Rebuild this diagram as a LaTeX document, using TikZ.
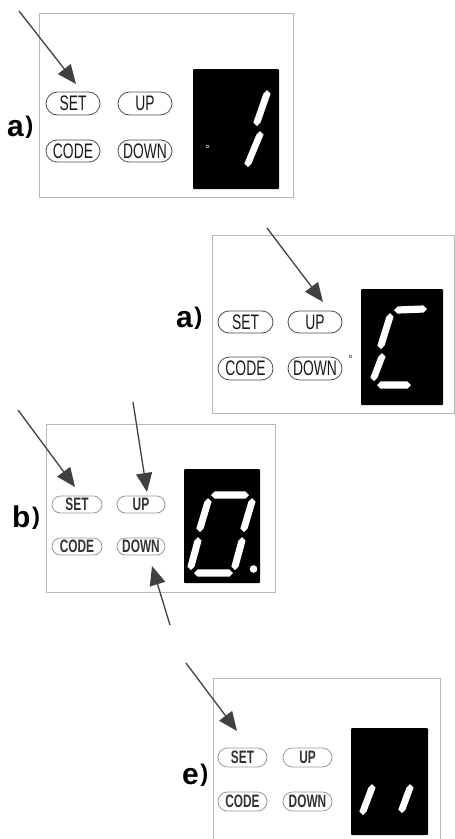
\documentclass[tikz,border=0pt]{standalone}
\usepackage{fontspec}
\setmainfont{Liberation Sans}
\newfontfamily\btnfont[FakeStretch=0.66]{Liberation Sans}
\usetikzlibrary{arrows.meta,shapes.misc}
\def\sw{3.6}
\newcommand\vseg[4]{\fill[white] (#1,#2) -- (#1+\sw,#2+\sw) -- (#3+\sw,#4-\sw) -- (#3,#4) -- (#3-\sw,#4-\sw) -- (#1-\sw,#2+\sw) -- cycle;}
\newcommand\hseg[4]{\fill[white] (#1,#2) -- (#1+\sw,#2-\sw) -- (#3-\sw,#4-\sw) -- (#3,#4) -- (#3-\sw,#4+\sw) -- (#1+\sw,#2+\sw) -- cycle;}
\newcommand\lbltext[1]{\bfseries\fontsize{30}{30}\selectfont #1\hspace{1.5pt}\raisebox{2.5pt}{\fontsize{24}{24}\selectfont )}}
\begin{document}
\begin{tikzpicture}[x=1pt,y=-1pt,
  panel/.style={draw=black!28, line width=0.9pt},
  display/.style={fill=black, rounded corners=1pt},
  btn/.style={rounded rectangle, draw=black!70, line width=0.8pt, inner sep=0pt,
    text=black!90, font=\btnfont\fontsize{21}{21}\selectfont},
  btnsmall/.style={rounded rectangle, draw=black!40, line width=0.8pt, inner sep=0pt,
    text=black!80, font=\btnfont\bfseries\fontsize{18}{18}\selectfont},
  lbl/.style={anchor=base west, inner sep=0pt},
  arr/.style={draw=black!75, line width=1.3pt, -{Triangle[length=19pt,width=16pt]}},
  tinydot/.style={draw=black!45, line width=0.5pt}
]
\useasboundingbox (0,0) rectangle (455,839);

% ---------- Panel 1 ----------
\draw[panel] (39,13) rectangle (293,197);
\node[btn, minimum width=54pt, minimum height=23pt] (p1set) at (73,103.5) {SET};
\node[btn, minimum width=54pt, minimum height=23pt] (p1up) at (145,103.5) {UP};
\node[btn, minimum width=54pt, minimum height=22pt] (p1code) at (73,151) {CODE};
\node[btn, minimum width=54pt, minimum height=22pt] (p1down) at (145,151) {DOWN};
\fill[display] (193,69) rectangle (279,189);
\vseg{267}{90}{257}{126}
\vseg{260}{131}{248}{167}
\draw[tinydot] (206,145) rectangle (208.5,147.5);
\node[lbl] (p1lbl) at (7,136) {\lbltext{a}};
\coordinate (a1s) at (19,11);
\coordinate (a1t) at (76,84);
\draw[arr] (a1s) -- (a1t);

% ---------- Panel 2 ----------
\draw[panel] (212,235) rectangle (454,413);
\node[btn, minimum width=55pt, minimum height=22pt] (p2set) at (245.5,322) {SET};
\node[btn, minimum width=54pt, minimum height=22pt] (p2up) at (315,322) {UP};
\node[btn, minimum width=55pt, minimum height=23pt] (p2code) at (245.5,368.5) {CODE};
\node[btn, minimum width=54pt, minimum height=23pt] (p2down) at (315,368.5) {DOWN};
\fill[display] (361,289) rectangle (443,405);
\hseg{394}{310}{427}{309}
\vseg{390}{313}{381}{349}
\vseg{382}{353}{374}{381}
\hseg{377}{385}{411}{385}
\draw[tinydot] (349,355) rectangle (351.5,357.5);
\node[lbl] (p2lbl) at (176,327) {\lbltext{a}};
\coordinate (a2s) at (267,228);
\coordinate (a2t) at (323,302);
\draw[arr] (a2s) -- (a2t);

% ---------- Panel 3 ----------
\draw[panel] (46,424) rectangle (275,592);
\node[btnsmall, minimum width=50pt, minimum height=17pt] (p3set) at (77,504.5) {SET};
\node[btnsmall, minimum width=48pt, minimum height=17pt] (p3up) at (141,504.5) {UP};
\node[btnsmall, minimum width=50pt, minimum height=17pt] (p3code) at (77,546.5) {CODE};
\node[btnsmall, minimum width=48pt, minimum height=17pt] (p3down) at (141,546.5) {DOWN};
\fill[display] (184,469) rectangle (260,583);
\hseg{211}{495}{249}{495}
\vseg{208}{498}{200}{532}
\vseg{252}{498}{244}{532}
\vseg{198}{537}{191}{570}
\vseg{242}{537}{235}{570}
\hseg{194}{573}{233}{573}
\fill[white] (253.5,569) circle (3.8);
\node[lbl] (p3lbl) at (12,527) {\lbltext{b}};
\coordinate (a3s) at (18,410);
\coordinate (a3t) at (75,487);
\draw[arr] (a3s) -- (a3t);
\coordinate (a4s) at (133,402);
\coordinate (a4t) at (147,492);
\draw[arr] (a4s) -- (a4t);
\coordinate (a5s) at (170,625);
\coordinate (a5t) at (152,566);
\draw[arr] (a5s) -- (a5t);

% ---------- Panel 4 ----------
\draw[panel] (213,840) -- (213,678) -- (440,678) -- (440,840);
\node[btnsmall, minimum width=49pt, minimum height=19pt] (p4set) at (242.5,757.5) {SET};
\node[btnsmall, minimum width=49pt, minimum height=19pt] (p4up) at (307.5,757.5) {UP};
\node[btnsmall, minimum width=49pt, minimum height=19pt] (p4code) at (242.5,801.5) {CODE};
\node[btnsmall, minimum width=49pt, minimum height=19pt] (p4down) at (307.5,801.5) {DOWN};
\fill[display] (351,728) rectangle (428,835);
\vseg{372}{784}{363}{815}
\vseg{410}{784}{402}{813}
\node[lbl] (p4lbl) at (182,784) {\lbltext{e}};
\coordinate (a6s) at (186,663);
\coordinate (a6t) at (237,731);
\draw[arr] (a6s) -- (a6t);
\end{tikzpicture}
\end{document}
